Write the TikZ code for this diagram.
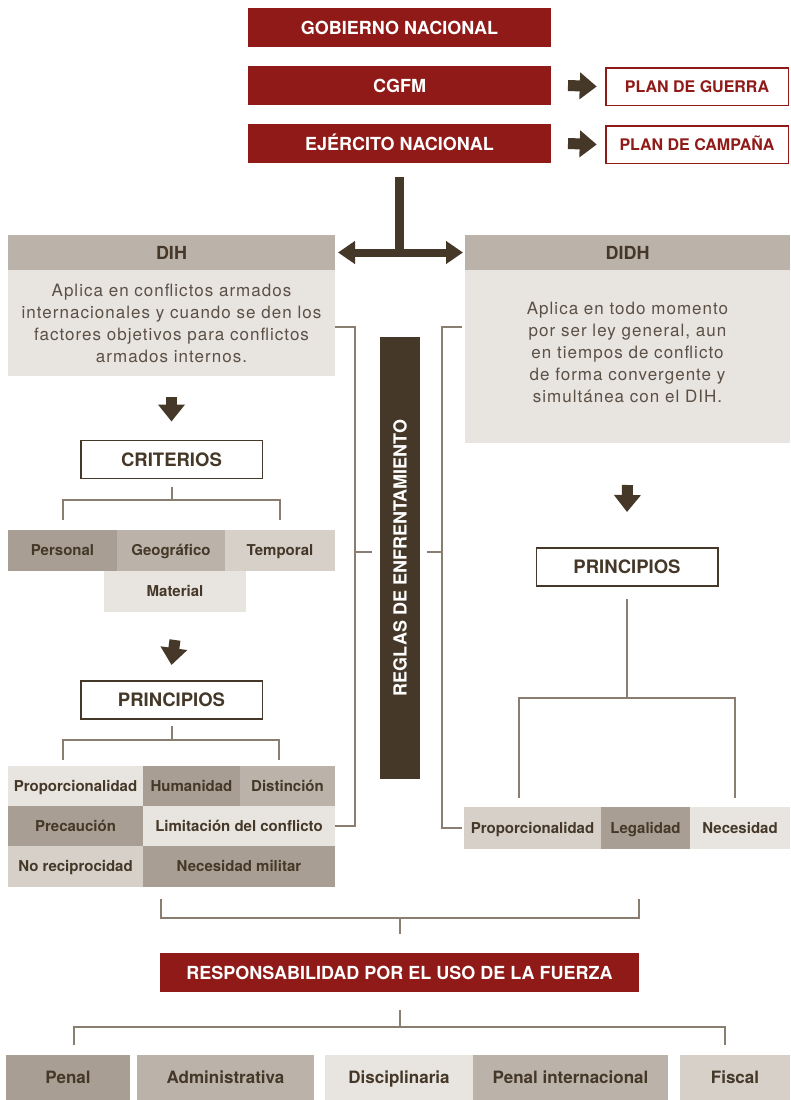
\documentclass[tikz,border=0pt]{standalone}
\usepackage{fontspec}
\setmainfont{TeX Gyre Heros}
\newfontfamily\espaciada[LetterSpace=6]{TeX Gyre Heros}
\usepackage{tikz}
\usetikzlibrary{arrows.meta, positioning}

\definecolor{rojo}{HTML}{8F1A17}
\definecolor{marron}{HTML}{453828}
\definecolor{texto}{HTML}{5B5045}
\definecolor{linea}{HTML}{8A7E70}
\definecolor{tono1}{HTML}{A89E93}
\definecolor{tono2}{HTML}{BBB3A9}
\definecolor{tono3}{HTML}{D6D0C9}
\definecolor{tono4}{HTML}{E8E4E0}

\begin{document}
\begin{tikzpicture}
  [x=1pt, y=-1pt,
   every node/.style={inner sep=0pt, outer sep=0pt, align=center},
   mando/.style={fill=rojo, text=white, minimum width=303pt, minimum height=39pt, text height=13pt, text depth=0pt, font=\bfseries\fontsize{18}{21}\selectfont},
   plan/.style={draw=rojo, line width=1.5pt, fill=white, text=rojo, minimum width=182.5pt, minimum height=37.5pt, text height=11.5pt, text depth=0pt, font=\bfseries\fontsize{16}{19}\selectfont},
   cabeza/.style={fill=tono2, text=marron, minimum height=35pt, text height=13pt, text depth=0pt, font=\bfseries\fontsize{18}{21}\selectfont},
   cuerpo/.style={fill=tono4, text=texto, font=\espaciada\fontsize{17}{22}\selectfont},
   caja/.style={draw=marron, line width=1.5pt, fill=white, text=marron, minimum width=181.5pt, minimum height=38pt, text height=13.3pt, text depth=0pt, font=\bfseries\fontsize{18.5}{21}\selectfont},
   celda/.style={text=marron, text height=10.8pt, text depth=0pt, font=\bfseries\fontsize{15}{18}\selectfont},
   celdagrande/.style={text=marron, minimum height=45pt, text height=12.2pt, text depth=0pt, font=\bfseries\fontsize{17}{20}\selectfont},
   enlace/.style={draw=linea, line width=2pt},
   flecha/.style={draw=marron, line width=11pt, -{Triangle[length=17pt, width=26pt]}}]

  \useasboundingbox (0,0) rectangle (790,1100);

  % mando
  \node[mando] (gobierno) at (399.5,27.5) {GOBIERNO NACIONAL};
  \node[mando] (cgfm) at (399.5,85.5) {CGFM};
  \node[mando] (ejercito) at (399.5,143.5) {EJÉRCITO NACIONAL};
  \node[plan] (guerra) at (697,86.5) {PLAN DE GUERRA};
  \node[plan] (campana) at (697,144.5) {PLAN DE CAMPAÑA};
  \draw[flecha] ([xshift=17pt]cgfm.east) -- ([xshift=-9pt]guerra.west);
  \draw[flecha] ([xshift=17pt]ejercito.east) -- ([xshift=-9pt]campana.west);

  % DIH y DIDH
  \node[cabeza, minimum width=327pt] (dih) at (171.5,252.5) {DIH};
  \node[cuerpo, minimum width=327pt, minimum height=106pt] (dihtexto) at (171.5,323)
    {Aplica en conflictos armados\\internacionales y cuando se den los\\factores objetivos para conflictos\\armados internos.};
  \node[cabeza, minimum width=325pt] (didh) at (627.5,252.5) {DIDH};
  \node[cuerpo, minimum width=325pt, minimum height=173pt] (didhtexto) at (627.5,356.5)
    {Aplica en todo momento\\por ser ley general, aun\\en tiempos de conflicto\\de forma convergente y\\simultánea con el DIH.\\[-14pt]};

  \coordinate (cruce) at (399.5,252.5);
  \draw[marron, line width=9pt] ([yshift=-14pt]ejercito.south) -- (cruce);
  \draw[marron, line width=8pt, {Triangle[length=17pt, width=22pt]}-{Triangle[length=17pt, width=22pt]}]
    ([xshift=3pt]dih.east) -- ([xshift=-2pt]didh.west);

  % reglas
  \node[fill=marron, text=white, minimum width=40pt, minimum height=442pt, font=\bfseries\fontsize{18}{21}\selectfont]
    (reglas) at (400,558) {\rotatebox{90}{REGLAS DE ENFRENTAMIENTO}};

  % criterios
  \node[caja] (criterios) at (171.5,459.5) {CRITERIOS};
  \draw[flecha] ([yshift=-21pt]dihtexto.south) -- ([yshift=19pt]criterios.north);
  \node[celda, fill=tono1, minimum width=109pt, minimum height=41pt] (personal) at (62.5,550.5) {Personal};
  \node[celda, fill=tono2, minimum width=108pt, minimum height=41pt] (geografico) at (171,550.5) {Geográfico};
  \node[celda, fill=tono3, minimum width=110pt, minimum height=41pt] (temporal) at (280,550.5) {Temporal};
  \node[celda, fill=tono4, minimum width=142pt, minimum height=41pt] (material) at (175,591.5) {Material};
  \draw[enlace] ([yshift=-8pt]criterios.south) -- (criterios.south |- 0,500);
  \draw[enlace] ([yshift=10pt]personal.north) |- (criterios.south |- 0,500) -| ([yshift=10pt]temporal.north);

  % principios DIH
  \node[caja] (principios) at (171.5,700) {PRINCIPIOS};
  \draw[flecha] ([yshift=-28pt]material.south) -- ([yshift=16pt]principios.north);
  \node[celda, fill=tono4, minimum width=135pt, minimum height=40pt] (proporcion) at (75.5,786) {Proporcionalidad};
  \node[celda, fill=tono1, minimum width=97pt, minimum height=40pt] (humanidad) at (191.5,786) {Humanidad};
  \node[celda, fill=tono2, minimum width=95pt, minimum height=40pt] (distincion) at (287.5,786) {Distinción};
  \node[celda, fill=tono1, minimum width=135pt, minimum height=40pt] (precaucion) at (75.5,826) {Precaución};
  \node[celda, fill=tono4, minimum width=192pt, minimum height=40pt] (limitacion) at (239,826) {Limitación del conflicto};
  \node[celda, fill=tono3, minimum width=135pt, minimum height=41pt] (noreciproc) at (75.5,866.5) {No reciprocidad};
  \node[celda, fill=tono1, minimum width=192pt, minimum height=41pt] (necmilitar) at (239,866.5) {Necesidad militar};
  \draw[enlace] ([yshift=-7pt]principios.south) -- (principios.south |- 0,740);
  \draw[enlace] (63,760) |- (principios.south |- 0,740) -| (279,760);

  % principios DIDH
  \node[caja] (principios2) at (627,567) {PRINCIPIOS};
  \draw[flecha] ([yshift=-42pt]didhtexto.south) -- ([yshift=36pt]principios2.north);
  \node[celda, fill=tono3, minimum width=137pt, minimum height=42pt] (propder) at (532.5,828) {Proporcionalidad};
  \node[celda, fill=tono1, minimum width=89pt, minimum height=42pt] (legalidad) at (645.5,828) {Legalidad};
  \node[celda, fill=tono4, minimum width=100pt, minimum height=42pt] (necesidad) at (740,828) {Necesidad};
  \draw[enlace] ([yshift=-13pt]principios2.south) -- (principios2.south |- 0,698);
  \draw[enlace] (519,798) |- (principios2.south |- 0,698) -| (735,798);

  % corchetes de reglas
  \coordinate (llado) at (355,327);
  \coordinate (lmedio) at (355,552);
  \draw[enlace] (dihtexto.east |- llado) -- (llado) -- (llado |- limitacion.east) -- (limitacion.east);
  \draw[enlace] (lmedio) -- ++(17,0);
  \coordinate (rlado) at (442,327);
  \draw[enlace] ([xshift=-3pt]didhtexto.west |- rlado) -- (rlado) -- (rlado |- propder.west) -- ([xshift=-2pt]propder.west);
  \draw[enlace] (rlado |- lmedio) -- ++(-15,0);

  % responsabilidad
  \node[mando, minimum width=479pt] (resp) at (399.5,972.5) {RESPONSABILIDAD POR EL USO DE LA FUERZA};
  \coordinate (bizq) at (161,899);
  \coordinate (bder) at (639,899);
  \draw[enlace] (bizq) |- (resp.north |- 0,918) -| (bder);
  \draw[enlace] (resp.north |- 0,918) -- ([yshift=19pt]resp.north);

  \node[celdagrande, fill=tono1, minimum width=124pt] (penal) at (68,1077.5) {Penal};
  \node[celdagrande, fill=tono2, minimum width=177pt] (admin) at (225.5,1077.5) {Administrativa};
  \node[celdagrande, fill=tono4, minimum width=148pt] (discip) at (399,1077.5) {Disciplinaria};
  \node[celdagrande, fill=tono2, minimum width=195pt] (penalint) at (570.5,1077.5) {Penal internacional};
  \node[celdagrande, fill=tono3, minimum width=110pt] (fiscal) at (735,1077.5) {Fiscal};
  \draw[enlace] ([yshift=-18pt]resp.south) -- (resp.south |- 0,1027);
  \draw[enlace] (74,1045) |- (resp.south |- 0,1027) -| (725,1045);
\end{tikzpicture}
\end{document}
